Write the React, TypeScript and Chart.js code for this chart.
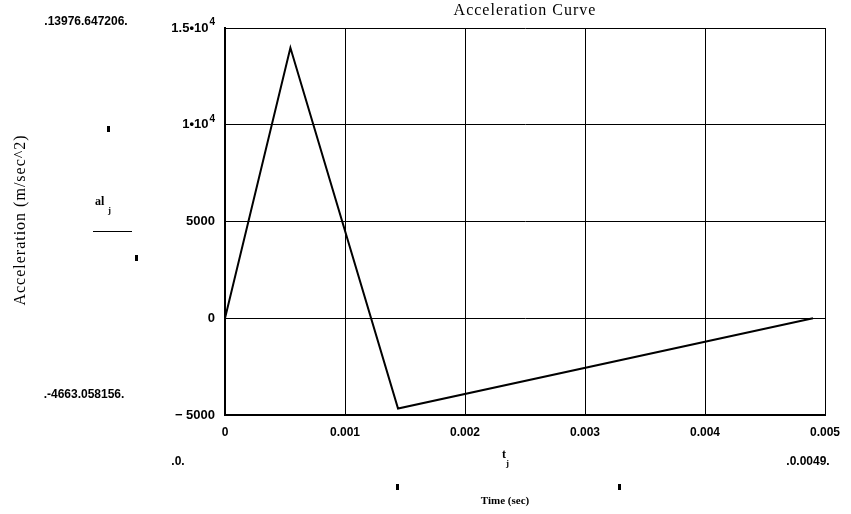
import React, { useEffect, useRef } from "react";
import { Chart, registerables } from "chart.js";

Chart.register(...registerables);

const times = [0, 0.000545, 0.001442, 0.0049];
const accel = [0, 13976.647206, -4663.058156, 0];
const xTicks = [0, 0.001, 0.002, 0.003, 0.004, 0.005];
const xTickLabels = ["0", "0.001", "0.002", "0.003", "0.004", "0.005"];
const yTicks = [-5000, 0, 5000, 10000, 15000];
// [base, exponent]
const yTickLabels: [string, string][] = [
  ["\u2212 5000", ""],
  ["0", ""],
  ["5000", ""],
  ["1\u202210", "4"],
  ["1.5\u202210", "4"],
];
const title = "Acceleration Curve";
const yTitle = "Acceleration (m/sec^2)";
const xTitle = "Time (sec)";
const markerTop = ".13976.647206.";
const markerBottom = ".-4663.058156.";
const markerLeft = ".0.";
const markerRight = ".0.0049.";

const extras = {
  id: "extras",
  afterDraw(chart: any) {
    const ctx = chart.ctx;
    const area = chart.chartArea;
    const ys = chart.scales.y;
    ctx.save();
    ctx.fillStyle = "#000";
    // y tick labels with superscripts
    ctx.textBaseline = "middle";
    yTicks.forEach((v, i) => {
      const [base, exp] = yTickLabels[i];
      const py = ys.getPixelForValue(v);
      let right = area.left - 10;
      ctx.textAlign = "right";
      if (exp) {
        ctx.font = "bold 10px 'Liberation Sans'";
        ctx.fillText(exp, right, py - 6);
        right -= ctx.measureText(exp).width + 1;
      }
      ctx.font = "bold 13px 'Liberation Sans'";
      ctx.fillText(base, right, py);
    });
    // title
    ctx.textAlign = "center";
    (ctx as any).letterSpacing = "1px";
    ctx.font = "16px 'Liberation Serif'";
    ctx.fillText(title, (area.left + area.right) / 2, 11);
    // y title
    ctx.save();
    ctx.translate(21, 220);
    ctx.rotate(-Math.PI / 2);
    ctx.font = "16px 'Liberation Serif'";
    ctx.fillText(yTitle, 0, 0);
    ctx.restore();
    (ctx as any).letterSpacing = "0px";
    // x title
    ctx.font = "bold 11px 'Liberation Serif'";
    ctx.fillText(xTitle, 505, 501);
    // markers
    ctx.font = "bold 12px 'Liberation Sans'";
    ctx.fillText(markerTop, 86, 22);
    ctx.fillText(markerBottom, 84, 395);
    ctx.fillText(markerLeft, 178, 462);
    ctx.fillText(markerRight, 808, 462);
    // al_j
    ctx.font = "bold 12px 'Liberation Serif'";
    ctx.textAlign = "left";
    ctx.fillText("al", 95, 202);
    ctx.font = "bold 9px 'Liberation Serif'";
    ctx.fillText("j", 108, 211);
    ctx.fillRect(93, 231, 39, 1);
    // t_j
    ctx.font = "bold 12px 'Liberation Serif'";
    ctx.fillText("t", 502, 455);
    ctx.font = "bold 9px 'Liberation Serif'";
    ctx.fillText("j", 506, 464);
    // small squares
    ctx.fillRect(107, 126, 3, 6);
    ctx.fillRect(135, 255, 3, 6);
    ctx.fillRect(396, 484, 3, 6);
    ctx.fillRect(618, 484, 3, 6);
    ctx.restore();
  },
};

export default function App() {
  const ref = useRef<HTMLCanvasElement>(null);
  useEffect(() => {
    document.body.style.margin = "0";
    const chart = new Chart(ref.current!, {
      type: "scatter",
      data: {
        datasets: [
          {
            data: times.map((t, i) => ({ x: t, y: accel[i] })),
            showLine: true,
            borderColor: "#000",
            borderWidth: 2,
            pointRadius: 0,
            tension: 0,
          },
        ],
      },
      options: {
        animation: false,
        responsive: false,
        layout: { padding: { top: 28, right: 26, left: 0, bottom: 0 } },
        plugins: { legend: { display: false }, tooltip: { enabled: false } },
        scales: {
          x: {
            type: "linear",
            min: 0,
            max: 0.005,
            afterBuildTicks: (s: any) => {
              s.ticks = xTicks.map((v) => ({ value: v }));
            },
            afterFit: (s: any) => {
              s.height = 99;
            },
            ticks: {
              color: "#000",
              padding: 10,
              maxRotation: 0,
              font: { family: "'Liberation Sans'", size: 12, weight: "bold" },
              callback: (v: any) => {
                const i = xTicks.findIndex((t) => Math.abs(t - v) < 1e-9);
                return i >= 0 ? xTickLabels[i] : "";
              },
            },
            grid: { color: "#000", lineWidth: 1, drawTicks: false },
            border: { color: "#000", width: 2 },
          },
          y: {
            type: "linear",
            min: -5000,
            max: 15000,
            afterBuildTicks: (s: any) => {
              s.ticks = yTicks.map((v) => ({ value: v }));
            },
            afterFit: (s: any) => {
              s.width = 225;
            },
            ticks: {
              color: "#000",
              padding: 10,
              callback: () => "",
            },
            grid: { color: "#000", lineWidth: 1, drawTicks: false },
            border: { color: "#000", width: 2 },
          },
        },
      },
      plugins: [extras],
    } as any);
    return () => chart.destroy();
  }, []);
  return (
    <div style={{ position: "absolute", left: 0, top: 0, width: 851, height: 514, background: "#fff" }}>
      <canvas ref={ref} width={851} height={514} />
    </div>
  );
}
